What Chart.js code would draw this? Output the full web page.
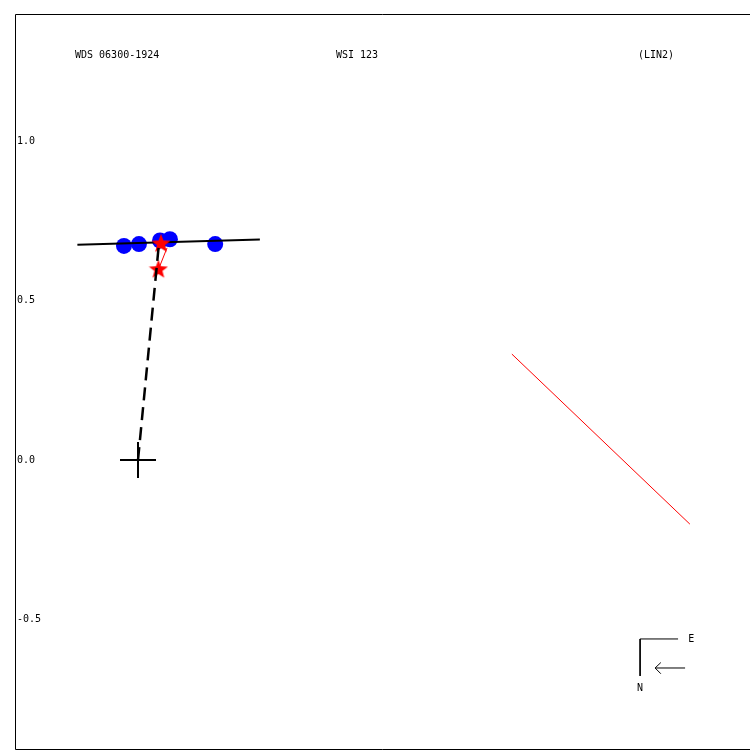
<!DOCTYPE html>
<html>
<head>
<meta charset="utf-8">
<script src="https://cdn.jsdelivr.net/npm/chart.js@4/dist/chart.umd.min.js"></script>
<style>
html,body{margin:0;padding:0;background:#fff;overflow:hidden}
canvas{display:block}
</style>
</head>
<body>
<canvas id="c" width="750" height="750"></canvas>
<script>
// ---- data (arcsec) ----
const titleLeft = "WDS 06300-1924";
const titleMid = "WSI 123";
const titleRight = "(LIN2)";
const yTickValues = [1.0, 0.5, 0.0, -0.5];
const yTickLabels = ["1.0", "0.5", "0.0", "-0.5"];

const obsX = [-0.044, 0.003, 0.069, 0.100, 0.242];
const obsY = [0.671, 0.677, 0.688, 0.692, 0.677];

const fitX = [-0.190, 0.382];
const fitY = [0.675, 0.691];

const starX = [0.072, 0.064];
const starY = [0.679, 0.598];

const connX = [0.091, 0.066];
const connY = [0.665, 0.602];

const dashX = [0.000, 0.065];
const dashY = [0.000, 0.671];

const primaryX = [0];
const primaryY = [0];

const nodeX = [1.172, 1.730];
const nodeY = [0.332, -0.201];

const compassX = [1.693, 1.574, 1.574];
const compassY = [-0.561, -0.561, -0.677];
const arrowX = [1.715, 1.621];
const arrowY = [-0.652, -0.652];
const arrowHeadX = [1.639, 1.621, 1.639];
const arrowHeadY = [-0.635, -0.652, -0.670];
const compassLabels = ["E", "N"];
const compassLabelX = [1.725, 1.564];
const compassLabelY = [-0.561, -0.717];

const axisX = [-0.3856, 1.9185];
const axisY = [-0.9091, 1.3981];

const pts = (xs, ys) => xs.map((x, i) => ({x: x, y: ys[i]}));

// filled star marker
function makeStar(size, color) {
  const cv = document.createElement('canvas');
  cv.width = size; cv.height = size;
  const g = cv.getContext('2d');
  const cx = size / 2, cy = size / 2 + 0.5, R = size / 2, r = R * 0.42;
  g.beginPath();
  for (let i = 0; i < 10; i++) {
    const rad = i % 2 === 0 ? R : r;
    const a = -Math.PI / 2 + i * Math.PI / 5;
    const px = cx + rad * Math.cos(a), py = cy + rad * Math.sin(a);
    if (i === 0) g.moveTo(px, py); else g.lineTo(px, py);
  }
  g.closePath();
  g.fillStyle = color;
  g.fill();
  return cv;
}
const starImg = makeStar(20, '#ff0000');

const FONT = '10px "DejaVu Sans Mono", "Liberation Mono", monospace';

const decor = {
  id: 'decor',
  afterDraw(chart) {
    const ctx = chart.ctx;
    const a = chart.chartArea;
    const xs = chart.scales.x, ys = chart.scales.y;
    ctx.save();
    // frame (left, top, bottom)
    ctx.strokeStyle = '#000';
    ctx.lineWidth = 1;
    ctx.beginPath();
    ctx.moveTo(a.right, a.top + 0.5);
    ctx.lineTo(a.left + 0.5, a.top + 0.5);
    ctx.lineTo(a.left + 0.5, a.bottom - 0.5);
    ctx.lineTo(a.right, a.bottom - 0.5);
    ctx.stroke();
    ctx.fillStyle = '#000';
    ctx.font = FONT;
    // y tick labels
    ctx.textAlign = 'left';
    ctx.textBaseline = 'middle';
    yTickValues.forEach((v, i) => {
      ctx.fillText(yTickLabels[i], a.left + 2, ys.getPixelForValue(v));
    });
    // titles
    ctx.fillText(titleLeft, 75, 55);
    ctx.fillText(titleMid, 336, 55);
    ctx.fillText(titleRight, 638, 55);
    // compass letters
    compassLabels.forEach((t, i) => {
      ctx.fillText(t, xs.getPixelForValue(compassLabelX[i]), ys.getPixelForValue(compassLabelY[i]));
    });
    ctx.restore();
  }
};

new Chart(document.getElementById('c'), {
  type: 'scatter',
  data: {
    datasets: [
      { label: 'primary', data: pts(primaryX, primaryY), pointStyle: 'cross', pointRadius: 18,
        borderColor: '#000', backgroundColor: '#000', pointBorderWidth: 2, order: 0 },
      { label: 'dash', data: pts(dashX, dashY), showLine: true, borderColor: '#000', borderWidth: 2.5,
        borderDash: [13, 7], pointRadius: 0, order: 1 },
      { label: 'conn', data: pts(connX, connY), showLine: true, borderColor: '#ff0000', borderWidth: 1,
        pointRadius: 0, order: 2 },
      { label: 'stars', data: pts(starX, starY), pointStyle: starImg, pointRadius: 10, order: 3 },
      { label: 'fit', data: pts(fitX, fitY), showLine: true, borderColor: '#000', borderWidth: 2,
        pointRadius: 0, order: 4 },
      { label: 'obs', data: pts(obsX, obsY), pointStyle: 'circle', pointRadius: 8,
        backgroundColor: '#0000ff', borderColor: '#0000ff', pointBorderWidth: 0, order: 5 },
      { label: 'node', data: pts(nodeX, nodeY), showLine: true, borderColor: '#ff0000', borderWidth: 1,
        pointRadius: 0, order: 6 },
      { label: 'compass', data: pts(compassX, compassY), showLine: true, borderColor: '#000', borderWidth: 1,
        pointRadius: 0, order: 7 },
      { label: 'arrow', data: pts(arrowX, arrowY), showLine: true, borderColor: '#000', borderWidth: 1,
        pointRadius: 0, order: 8 },
      { label: 'arrowhead', data: pts(arrowHeadX, arrowHeadY), showLine: true, borderColor: '#000', borderWidth: 1,
        pointRadius: 0, order: 9 }
    ]
  },
  options: {
    responsive: false,
    animation: false,
    events: [],
    layout: { autoPadding: false, padding: { left: 15, top: 14, right: 0, bottom: 0 } },
    plugins: { legend: { display: false }, tooltip: { enabled: false }, title: { display: false } },
    scales: {
      x: { type: 'linear', display: false, min: axisX[0], max: axisX[1] },
      y: { type: 'linear', display: false, min: axisY[0], max: axisY[1] }
    }
  },
  plugins: [decor]
});
</script>
</body>
</html>
